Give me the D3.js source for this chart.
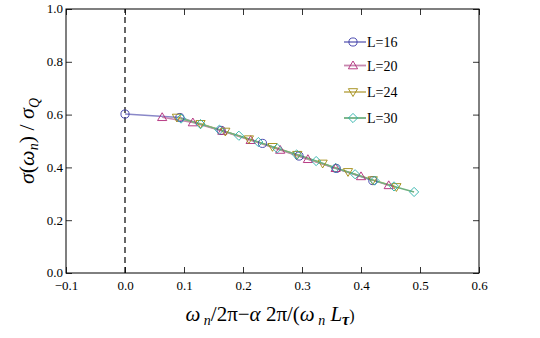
<!DOCTYPE html>
<html>
<head>
<meta charset="utf-8">
<script src="https://cdn.jsdelivr.net/npm/d3@7"></script>
<style>
  body { margin: 0; background: #fff; }
</style>
</head>
<body>
<div class="chart"></div>
<script>
// data
var x16 = [0.000, 0.093, 0.163, 0.233, 0.295, 0.358, 0.420];
var y16 = [0.602, 0.589, 0.540, 0.491, 0.443, 0.396, 0.350];

var x20 = [0.063, 0.115, 0.165, 0.213, 0.263, 0.310, 0.357, 0.400, 0.447];
var y20 = [0.590, 0.570, 0.538, 0.503, 0.466, 0.431, 0.397, 0.366, 0.332];

var x24 = [0.088, 0.128, 0.170, 0.210, 0.250, 0.292, 0.335, 0.378, 0.420, 0.460];
var y24 = [0.589, 0.565, 0.536, 0.507, 0.478, 0.448, 0.415, 0.383, 0.352, 0.326];

var x30 = [0.095, 0.128, 0.160, 0.193, 0.226, 0.258, 0.291, 0.324, 0.357, 0.390, 0.423, 0.456, 0.490];
var y30 = [0.585, 0.564, 0.543, 0.520, 0.496, 0.472, 0.449, 0.424, 0.398, 0.374, 0.350, 0.328, 0.307];

var xTicks = [-0.1, 0.0, 0.1, 0.2, 0.3, 0.4, 0.5, 0.6];
var yTicks = [0.0, 0.2, 0.4, 0.6, 0.8, 1.0];

var series = [
  {name: "L=16", xs: x16, ys: y16, line: "#8a88c8", mark: "#3a3aa8", shape: "circle"},
  {name: "L=20", xs: x20, ys: y20, line: "#c888b0", mark: "#b02878", shape: "triangle"},
  {name: "L=24", xs: x24, ys: y24, line: "#c8b870", mark: "#a08a10", shape: "down"},
  {name: "L=30", xs: x30, ys: y30, line: "#70b080", mark: "#28b0a8", shape: "diamond"}
];

var FONT = "'Liberation Serif', 'Times New Roman', serif";
var W = 540, H = 338;
var m = {left: 66, right: 61, top: 9, bottom: 65};

var svg = d3.select(".chart").append("svg")
            .attr("width", W)
            .attr("height", H)
            .attr("font-family", FONT);

var x = d3.scaleLinear().domain([-0.1, 0.6]).range([m.left, W - m.right]);
var y = d3.scaleLinear().domain([0, 1]).range([H - m.bottom, m.top]);

// frame with inward ticks on every side
var minorX = d3.range(-0.1, 0.6001, 0.02);
var minorY = d3.range(0, 1.0001, 0.05);

function frameAxis(axisFn, scale, major, minor, tx, ty, labels) {
  var g = svg.append("g").attr("transform", "translate(" + tx + "," + ty + ")");
  g.call(axisFn(scale).tickValues(minor).tickSize(-3).tickFormat(""));
  g.call(axisFn(scale).tickValues(major).tickSize(-6)
         .tickFormat(labels ? d3.format(".1f") : ""));
  g.attr("font-family", FONT);
  g.selectAll(".domain").remove();
  g.selectAll("line").attr("stroke", "#000").attr("stroke-width", 0.8);
  g.selectAll("text").attr("font-size", 13).attr("fill", "#000")
   .attr("font-family", FONT)
   .text(function(d){ return labels ? d3.format(".1f")(d).replace("-", "\u2212") : ""; });
  return g;
}

var bx = frameAxis(d3.axisBottom, x, xTicks, minorX, 0, H - m.bottom, true);
bx.selectAll("text").attr("dy", "1.0em").attr("y", 4);
frameAxis(d3.axisTop, x, xTicks, minorX, 0, m.top, false);
var ly = frameAxis(d3.axisLeft, y, yTicks, minorY, m.left, 0, true);
ly.selectAll("text").attr("x", -3).attr("dy", "0.3em");
frameAxis(d3.axisRight, y, yTicks, minorY, W - m.right, 0, false);

svg.append("rect")
   .attr("x", m.left).attr("y", m.top)
   .attr("width", W - m.left - m.right)
   .attr("height", H - m.top - m.bottom)
   .attr("fill", "none").attr("stroke", "#000").attr("stroke-width", 1);

// dashed line at zero
svg.append("line")
   .attr("x1", x(0)).attr("x2", x(0))
   .attr("y1", y(0)).attr("y2", y(1))
   .attr("stroke", "#000").attr("stroke-width", 1.2)
   .attr("stroke-dasharray", "6,4");

var line = d3.line().x(function(d){ return x(d[0]); }).y(function(d){ return y(d[1]); });

function shapePath(shape) {
  if (shape === "circle") return d3.symbol().type(d3.symbolCircle).size(52)();
  if (shape === "triangle") return "M0,-4.5L4.6,3.3L-4.6,3.3Z";
  if (shape === "down") return "M0,4.5L4.6,-3.3L-4.6,-3.3Z";
  return "M0,-4.6L4.6,0L0,4.6L-4.6,0Z";
}

series.forEach(function(s) {
  var pts = s.xs.map(function(v, i){ return [v, s.ys[i]]; });
  svg.append("path")
     .datum(pts)
     .attr("d", line)
     .attr("fill", "none")
     .attr("stroke", s.line)
     .attr("stroke-width", 1.5);
});

series.forEach(function(s) {
  var pts = s.xs.map(function(v, i){ return [v, s.ys[i]]; });
  svg.selectAll(null).data(pts).enter()
     .append("path")
     .attr("d", shapePath(s.shape))
     .attr("transform", function(d){ return "translate(" + x(d[0]) + "," + y(d[1]) + ")"; })
     .attr("fill", "none")
     .attr("stroke", s.mark)
     .attr("stroke-width", 0.9);
});

// legend
var leg = svg.append("g").attr("transform", "translate(344,42)");
var rows = leg.selectAll("g").data(series).enter()
              .append("g")
              .attr("transform", function(d, i){ return "translate(0," + [0, 23.5, 50, 76][i] + ")"; });
rows.append("line")
    .attr("x1", 0).attr("x2", 22)
    .attr("stroke", function(d){ return d.line; })
    .attr("stroke-width", 1.8);
rows.append("path")
    .attr("d", function(d){ return shapePath(d.shape); })
    .attr("transform", "translate(9,0)")
    .attr("fill", "none")
    .attr("stroke", function(d){ return d.mark; })
    .attr("stroke-width", 0.9);
rows.append("text")
    .attr("x", 23).attr("y", 5)
    .attr("font-size", 14)
    .text(function(d){ return d.name; });

// axis labels
svg.append("text")
   .attr("x", 270).attr("y", 321)
   .attr("text-anchor", "middle")
   .attr("font-size", 21)
   .attr("font-style", "italic")
   .html("\u03C9<tspan dy='4' font-size='14'> n</tspan><tspan dy='-4' font-style='normal'>/2\u03C0\u2212</tspan>\u03B1 <tspan font-style='normal'>2\u03C0/(</tspan>\u03C9<tspan dy='4' font-size='14'> n</tspan><tspan dy='-4'> L</tspan><tspan dy='4' font-size='16' font-weight='bold'>\u03C4</tspan><tspan dy='-4' font-style='normal' font-size='16'>)</tspan>");

svg.append("text")
   .attr("transform", "translate(34,141) rotate(-90)")
   .attr("text-anchor", "middle")
   .attr("font-size", 22)
   .attr("font-style", "italic")
   .html("\u03C3<tspan font-style='normal'>(</tspan>\u03C9<tspan dy='4' font-size='14'>n</tspan><tspan dy='-4' font-style='normal'>) / </tspan>\u03C3<tspan dy='5' font-size='14'>Q</tspan>");
</script>
</body>
</html>
